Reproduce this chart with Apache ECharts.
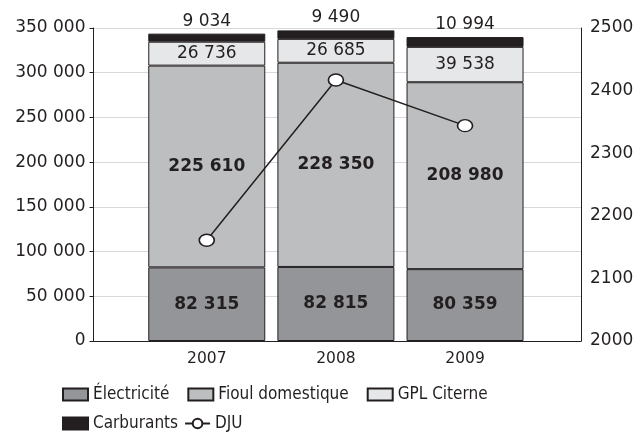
<!DOCTYPE html>
<html>
<head>
<meta charset="utf-8">
<script src="https://cdn.jsdelivr.net/npm/echarts@6/dist/echarts.min.js"></script>
<style>
  html, body { margin: 0; padding: 0; background: #fff; }
  #chart { width: 639px; height: 442px; }
</style>
</head>
<body>
<div id="chart"></div>
<script>
var years = ['2007', '2008', '2009']
var electricite = [82315, 82815, 80359]
var fioul = [225610, 228350, 208980]
var gpl = [26736, 26685, 39538]
var carburants = [9034, 9490, 10994]
var dju = [2161, 2417, 2344]

var ink = '#231f20'
var axisFont = 'DejaVu Sans'
var legendFont = '"Liberation Sans Narrow", "DejaVu Sans Condensed", "Roboto", sans-serif'

function fmt(v) {
  return String(v).replace(/\B(?=(\d{3})+(?!\d))/g, ' ')
}

function barSeries(name, data, color, label) {
  return {
    name: name,
    type: 'bar',
    stack: 'total',
    xAxisIndex: 1,
    yAxisIndex: 2,
    barWidth: 117,
    data: data,
    itemStyle: { color: color, borderColor: ink, borderWidth: 1 },
    label: Object.assign({
      show: true,
      color: ink,
      fontFamily: axisFont,
      fontSize: 17,
      formatter: function(p) { return fmt(p.value) }
    }, label)
  }
}

var chart = echarts.init(document.getElementById('chart'))
chart.setOption({
  animation: false,
  backgroundColor: '#fff',
  grid: [
    { left: 93.5, right: 58, top: 28, bottom: 101 },
    { left: 142.2, right: 109.4, top: 28, bottom: 101 }
  ],
  xAxis: [{
    gridIndex: 0,
    type: 'value',
    min: 0,
    max: 1,
    axisLine: { show: true, lineStyle: { color: ink, width: 1 } },
    axisTick: { show: false },
    axisLabel: { show: false },
    splitLine: { show: false }
  }, {
    gridIndex: 1,
    type: 'category',
    data: years,
    axisLine: { show: false },
    axisTick: { show: false },
    axisLabel: { color: ink, fontFamily: axisFont, fontSize: 15.5, margin: 10 }
  }],
  yAxis: [{
    gridIndex: 0,
    type: 'value',
    position: 'left',
    min: 0,
    max: 350000,
    interval: 50000,
    axisLine: { show: true, lineStyle: { color: ink, width: 1 } },
    axisTick: { show: true, length: 4, lineStyle: { color: ink } },
    axisLabel: { color: ink, fontFamily: axisFont, fontSize: 17, margin: 8, formatter: fmt },
    splitLine: { show: true, lineStyle: { color: '#d9d9d9', width: 1 } }
  }, {
    gridIndex: 0,
    type: 'value',
    position: 'right',
    min: 2000,
    max: 2500,
    interval: 100,
    axisLine: { show: true, lineStyle: { color: ink, width: 1 } },
    axisTick: { show: false },
    axisLabel: {
      color: ink, fontFamily: axisFont, fontSize: 17, margin: 9,
      formatter: function(v) { return String(v) }
    },
    splitLine: { show: false }
  }, {
    gridIndex: 1,
    type: 'value',
    min: 0,
    max: 350000,
    show: false
  }, {
    gridIndex: 1,
    type: 'value',
    min: 2000,
    max: 2500,
    show: false
  }],
  legend: [{
    data: [
      { name: 'Électricité', icon: 'rect' },
      { name: 'Fioul domestique', icon: 'rect' },
      { name: 'GPL Citerne', icon: 'rect' }
    ],
    left: 62,
    top: 386,
    padding: 0,
    itemWidth: 25,
    itemHeight: 12,
    itemGap: 18,
    textStyle: { color: ink, fontFamily: legendFont, fontSize: 17 }
  }, {
    data: [{ name: 'Carburants', icon: 'rect' }, 'DJU'],
    left: 62,
    top: 415,
    padding: 0,
    itemWidth: 25,
    itemHeight: 12,
    itemGap: 6,
    textStyle: { color: ink, fontFamily: legendFont, fontSize: 17 }
  }],
  series: [
    barSeries('Électricité', electricite, '#939598', { position: 'inside', fontWeight: 'bold' }),
    barSeries('Fioul domestique', fioul, '#bcbec0', { position: 'inside', fontWeight: 'bold' }),
    barSeries('GPL Citerne', gpl, '#e6e7e8', { position: 'inside' }),
    barSeries('Carburants', carburants, ink, { position: 'top', distance: 4 }),
    {
      name: 'DJU',
      type: 'line',
      xAxisIndex: 1,
      yAxisIndex: 3,
      data: dju,
      z: 5,
      symbol: 'circle',
      symbolSize: [15, 12],
      lineStyle: { color: ink, width: 1.5 },
      itemStyle: { color: '#fff', borderColor: ink, borderWidth: 1.5 }
    }
  ]
})
</script>
</body>
</html>
